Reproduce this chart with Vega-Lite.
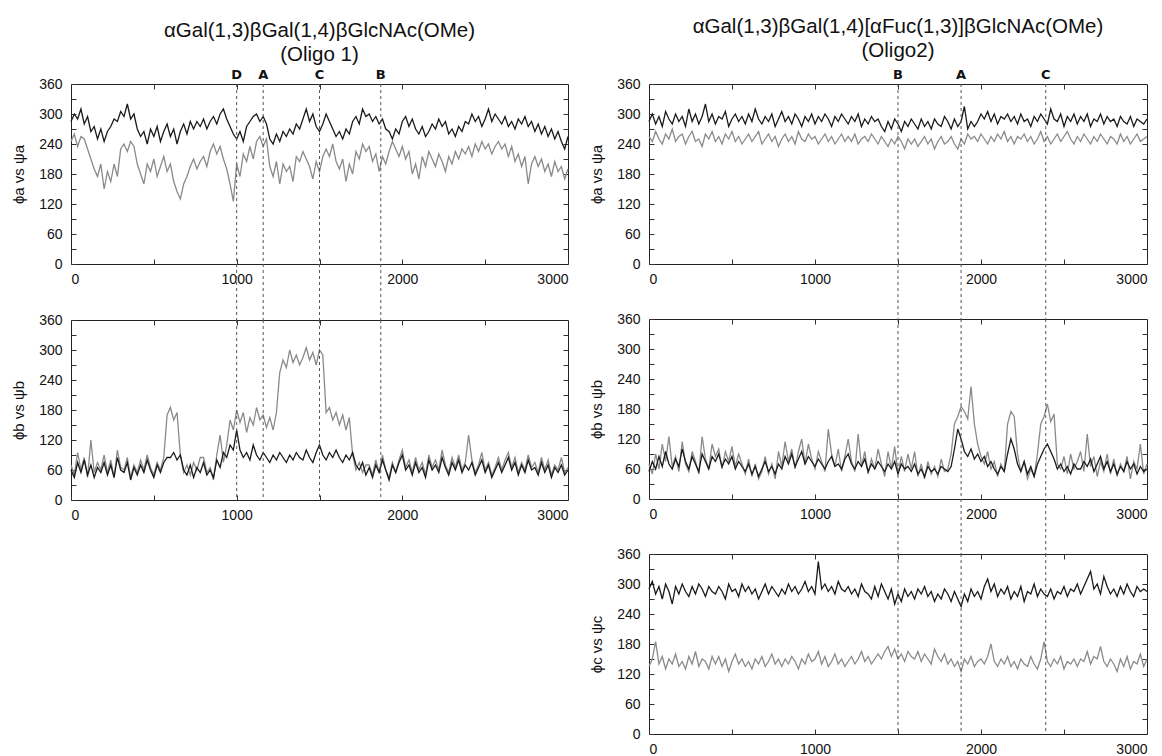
{
"$schema": "https://vega.github.io/schema/vega-lite/v6.json",
"background": "white",
"padding": {"left": 11, "top": 16, "right": 0, "bottom": 0},
"config": {
 "view": {"stroke": "#222", "strokeWidth": 1},
 "axis": {"domain": false, "grid": false, "ticks": true, "tickSize": -5, "tickColor": "#333", "labelFont": "Liberation Sans", "labelFontSize": 14, "labelColor": "#111", "titleFont": "Liberation Sans", "titleFontSize": 15, "titleFontWeight": "normal", "titleColor": "#111"},
 "title": {"font": "Liberation Sans", "fontSize": 20.5, "fontWeight": "normal", "color": "#111", "lineHeight": 24, "anchor": "middle"}
},
"datasets": {
"marks": [
 {"side": "L", "label": "D", "t": 1000},
 {"side": "L", "label": "A", "t": 1160},
 {"side": "L", "label": "C", "t": 1500},
 {"side": "L", "label": "B", "t": 1870},
 {"side": "R", "label": "B", "t": 1500},
 {"side": "R", "label": "A", "t": 1880},
 {"side": "R", "label": "C", "t": 2390}
],
"traj": [
{"t":0,"a1f":285,"a1s":245,"b1f":60,"b1s":70,"a2f":285,"a2s":255,"b2f":55,"b2s":70,"c2f":290,"c2s":135},
{"t":20,"a1f":300,"a1s":260,"b1f":45,"b1s":50,"a2f":300,"a2s":245,"b2f":75,"b2s":50,"c2f":305,"c2s":150},
{"t":40,"a1f":290,"a1s":235,"b1f":75,"b1s":95,"a2f":280,"a2s":265,"b2f":60,"b2s":90,"c2f":280,"c2s":185},
{"t":60,"a1f":310,"a1s":255,"b1f":55,"b1s":60,"a2f":295,"a2s":250,"b2f":85,"b2s":60,"c2f":295,"c2s":140},
{"t":80,"a1f":280,"a1s":250,"b1f":80,"b1s":85,"a2f":275,"a2s":240,"b2f":65,"b2s":110,"c2f":270,"c2s":155},
{"t":100,"a1f":295,"a1s":230,"b1f":50,"b1s":45,"a2f":305,"a2s":260,"b2f":95,"b2s":75,"c2f":300,"c2s":130},
{"t":120,"a1f":265,"a1s":210,"b1f":70,"b1s":120,"a2f":290,"a2s":250,"b2f":70,"b2s":125,"c2f":285,"c2s":150},
{"t":140,"a1f":275,"a1s":190,"b1f":45,"b1s":55,"a2f":280,"a2s":270,"b2f":60,"b2s":65,"c2f":260,"c2s":140},
{"t":160,"a1f":250,"a1s":175,"b1f":65,"b1s":75,"a2f":300,"a2s":245,"b2f":80,"b2s":85,"c2f":295,"c2s":160},
{"t":180,"a1f":270,"a1s":200,"b1f":55,"b1s":60,"a2f":285,"a2s":255,"b2f":65,"b2s":55,"c2f":280,"c2s":135},
{"t":200,"a1f":245,"a1s":150,"b1f":75,"b1s":90,"a2f":295,"a2s":260,"b2f":100,"b2s":115,"c2f":300,"c2s":145},
{"t":220,"a1f":265,"a1s":185,"b1f":50,"b1s":55,"a2f":275,"a2s":240,"b2f":75,"b2s":70,"c2f":285,"c2s":130},
{"t":240,"a1f":275,"a1s":165,"b1f":70,"b1s":80,"a2f":310,"a2s":255,"b2f":60,"b2s":55,"c2f":275,"c2s":155},
{"t":260,"a1f":290,"a1s":200,"b1f":45,"b1s":45,"a2f":285,"a2s":265,"b2f":85,"b2s":95,"c2f":295,"c2s":140},
{"t":280,"a1f":285,"a1s":175,"b1f":85,"b1s":100,"a2f":300,"a2s":245,"b2f":70,"b2s":75,"c2f":280,"c2s":165},
{"t":300,"a1f":305,"a1s":230,"b1f":60,"b1s":65,"a2f":280,"a2s":250,"b2f":55,"b2s":50,"c2f":300,"c2s":135},
{"t":320,"a1f":295,"a1s":240,"b1f":55,"b1s":60,"a2f":295,"a2s":235,"b2f":90,"b2s":125,"c2f":290,"c2s":150},
{"t":340,"a1f":320,"a1s":225,"b1f":75,"b1s":85,"a2f":320,"a2s":260,"b2f":75,"b2s":80,"c2f":275,"c2s":145},
{"t":360,"a1f":290,"a1s":245,"b1f":40,"b1s":45,"a2f":285,"a2s":250,"b2f":60,"b2s":60,"c2f":295,"c2s":130},
{"t":380,"a1f":300,"a1s":235,"b1f":65,"b1s":70,"a2f":300,"a2s":265,"b2f":85,"b2s":110,"c2f":285,"c2s":155},
{"t":400,"a1f":270,"a1s":200,"b1f":50,"b1s":55,"a2f":280,"a2s":245,"b2f":75,"b2s":85,"c2f":280,"c2s":140},
{"t":420,"a1f":255,"a1s":180,"b1f":70,"b1s":80,"a2f":295,"a2s":255,"b2f":90,"b2s":100,"c2f":295,"c2s":155},
{"t":440,"a1f":265,"a1s":160,"b1f":55,"b1s":60,"a2f":290,"a2s":240,"b2f":65,"b2s":60,"c2f":285,"c2s":135},
{"t":460,"a1f":240,"a1s":200,"b1f":80,"b1s":90,"a2f":305,"a2s":260,"b2f":80,"b2s":95,"c2f":270,"c2s":150},
{"t":480,"a1f":270,"a1s":185,"b1f":60,"b1s":65,"a2f":275,"a2s":250,"b2f":70,"b2s":75,"c2f":300,"c2s":125},
{"t":500,"a1f":255,"a1s":210,"b1f":45,"b1s":50,"a2f":290,"a2s":265,"b2f":85,"b2s":105,"c2f":285,"c2s":145},
{"t":520,"a1f":275,"a1s":175,"b1f":70,"b1s":75,"a2f":300,"a2s":245,"b2f":60,"b2s":65,"c2f":290,"c2s":160},
{"t":540,"a1f":245,"a1s":195,"b1f":55,"b1s":60,"a2f":285,"a2s":255,"b2f":75,"b2s":90,"c2f":275,"c2s":140},
{"t":560,"a1f":265,"a1s":215,"b1f":75,"b1s":85,"a2f":295,"a2s":240,"b2f":65,"b2s":70,"c2f":300,"c2s":150},
{"t":580,"a1f":280,"a1s":185,"b1f":85,"b1s":170,"a2f":280,"a2s":250,"b2f":55,"b2s":50,"c2f":285,"c2s":135},
{"t":600,"a1f":255,"a1s":200,"b1f":85,"b1s":185,"a2f":300,"a2s":260,"b2f":70,"b2s":80,"c2f":295,"c2s":145},
{"t":620,"a1f":270,"a1s":165,"b1f":95,"b1s":160,"a2f":285,"a2s":245,"b2f":50,"b2s":45,"c2f":280,"c2s":130},
{"t":640,"a1f":240,"a1s":145,"b1f":80,"b1s":175,"a2f":310,"a2s":255,"b2f":65,"b2s":70,"c2f":290,"c2s":150},
{"t":660,"a1f":265,"a1s":130,"b1f":90,"b1s":90,"a2f":290,"a2s":265,"b2f":45,"b2s":40,"c2f":270,"c2s":140},
{"t":680,"a1f":280,"a1s":160,"b1f":60,"b1s":55,"a2f":280,"a2s":240,"b2f":60,"b2s":55,"c2f":285,"c2s":155},
{"t":700,"a1f":260,"a1s":175,"b1f":50,"b1s":70,"a2f":295,"a2s":250,"b2f":75,"b2s":85,"c2f":300,"c2s":135},
{"t":720,"a1f":285,"a1s":195,"b1f":70,"b1s":50,"a2f":285,"a2s":260,"b2f":55,"b2s":50,"c2f":280,"c2s":145},
{"t":740,"a1f":270,"a1s":210,"b1f":45,"b1s":75,"a2f":300,"a2s":245,"b2f":65,"b2s":70,"c2f":295,"c2s":160},
{"t":760,"a1f":285,"a1s":190,"b1f":65,"b1s":60,"a2f":275,"a2s":255,"b2f":50,"b2s":40,"c2f":285,"c2s":140},
{"t":780,"a1f":275,"a1s":205,"b1f":55,"b1s":85,"a2f":290,"a2s":235,"b2f":70,"b2s":95,"c2f":275,"c2s":150},
{"t":800,"a1f":290,"a1s":215,"b1f":75,"b1s":85,"a2f":305,"a2s":250,"b2f":60,"b2s":65,"c2f":290,"c2s":135},
{"t":820,"a1f":270,"a1s":195,"b1f":50,"b1s":55,"a2f":285,"a2s":260,"b2f":85,"b2s":115,"c2f":280,"c2s":150},
{"t":840,"a1f":285,"a1s":225,"b1f":60,"b1s":65,"a2f":295,"a2s":245,"b2f":70,"b2s":75,"c2f":300,"c2s":140},
{"t":860,"a1f":295,"a1s":240,"b1f":45,"b1s":40,"a2f":280,"a2s":255,"b2f":90,"b2s":100,"c2f":285,"c2s":155},
{"t":880,"a1f":280,"a1s":220,"b1f":80,"b1s":90,"a2f":300,"a2s":240,"b2f":65,"b2s":60,"c2f":295,"c2s":145},
{"t":900,"a1f":300,"a1s":235,"b1f":65,"b1s":130,"a2f":290,"a2s":265,"b2f":80,"b2s":95,"c2f":280,"c2s":130},
{"t":920,"a1f":310,"a1s":210,"b1f":95,"b1s":75,"a2f":275,"a2s":250,"b2f":95,"b2s":120,"c2f":290,"c2s":150},
{"t":940,"a1f":290,"a1s":190,"b1f":85,"b1s":110,"a2f":295,"a2s":245,"b2f":70,"b2s":70,"c2f":305,"c2s":140},
{"t":960,"a1f":275,"a1s":160,"b1f":110,"b1s":160,"a2f":285,"a2s":260,"b2f":85,"b2s":110,"c2f":285,"c2s":160},
{"t":980,"a1f":260,"a1s":125,"b1f":100,"b1s":140,"a2f":300,"a2s":250,"b2f":75,"b2s":80,"c2f":295,"c2s":145},
{"t":1000,"a1f":250,"a1s":200,"b1f":140,"b1s":180,"a2f":280,"a2s":255,"b2f":65,"b2s":60,"c2f":280,"c2s":150},
{"t":1020,"a1f":265,"a1s":175,"b1f":100,"b1s":155,"a2f":295,"a2s":240,"b2f":80,"b2s":95,"c2f":345,"c2s":165},
{"t":1040,"a1f":245,"a1s":220,"b1f":85,"b1s":175,"a2f":285,"a2s":250,"b2f":70,"b2s":75,"c2f":290,"c2s":140},
{"t":1060,"a1f":275,"a1s":205,"b1f":95,"b1s":135,"a2f":300,"a2s":260,"b2f":60,"b2s":55,"c2f":300,"c2s":155},
{"t":1080,"a1f":285,"a1s":235,"b1f":80,"b1s":165,"a2f":290,"a2s":245,"b2f":75,"b2s":140,"c2f":285,"c2s":135},
{"t":1100,"a1f":295,"a1s":210,"b1f":110,"b1s":150,"a2f":275,"a2s":255,"b2f":85,"b2s":90,"c2f":295,"c2s":145},
{"t":1120,"a1f":300,"a1s":245,"b1f":90,"b1s":185,"a2f":295,"a2s":240,"b2f":65,"b2s":65,"c2f":280,"c2s":160},
{"t":1140,"a1f":285,"a1s":255,"b1f":80,"b1s":160,"a2f":285,"a2s":250,"b2f":70,"b2s":100,"c2f":305,"c2s":140},
{"t":1160,"a1f":295,"a1s":235,"b1f":95,"b1s":170,"a2f":300,"a2s":260,"b2f":60,"b2s":55,"c2f":290,"c2s":150},
{"t":1180,"a1f":280,"a1s":250,"b1f":85,"b1s":145,"a2f":290,"a2s":245,"b2f":80,"b2s":85,"c2f":285,"c2s":135},
{"t":1200,"a1f":250,"a1s":195,"b1f":75,"b1s":165,"a2f":280,"a2s":255,"b2f":90,"b2s":120,"c2f":295,"c2s":145},
{"t":1220,"a1f":240,"a1s":175,"b1f":90,"b1s":140,"a2f":295,"a2s":245,"b2f":70,"b2s":75,"c2f":280,"c2s":155},
{"t":1240,"a1f":260,"a1s":205,"b1f":80,"b1s":175,"a2f":285,"a2s":260,"b2f":60,"b2s":55,"c2f":290,"c2s":140},
{"t":1260,"a1f":245,"a1s":160,"b1f":95,"b1s":255,"a2f":300,"a2s":240,"b2f":75,"b2s":130,"c2f":275,"c2s":150},
{"t":1280,"a1f":265,"a1s":200,"b1f":85,"b1s":280,"a2f":275,"a2s":250,"b2f":65,"b2s":65,"c2f":300,"c2s":165},
{"t":1300,"a1f":255,"a1s":185,"b1f":75,"b1s":265,"a2f":290,"a2s":255,"b2f":80,"b2s":95,"c2f":285,"c2s":145},
{"t":1320,"a1f":270,"a1s":195,"b1f":90,"b1s":300,"a2f":280,"a2s":245,"b2f":55,"b2s":50,"c2f":280,"c2s":155},
{"t":1340,"a1f":260,"a1s":165,"b1f":80,"b1s":275,"a2f":295,"a2s":260,"b2f":70,"b2s":80,"c2f":270,"c2s":140},
{"t":1360,"a1f":280,"a1s":215,"b1f":95,"b1s":290,"a2f":285,"a2s":250,"b2f":60,"b2s":60,"c2f":295,"c2s":150},
{"t":1380,"a1f":270,"a1s":205,"b1f":85,"b1s":270,"a2f":290,"a2s":240,"b2f":75,"b2s":100,"c2f":275,"c2s":160},
{"t":1400,"a1f":290,"a1s":225,"b1f":80,"b1s":285,"a2f":275,"a2s":255,"b2f":65,"b2s":70,"c2f":300,"c2s":150},
{"t":1420,"a1f":310,"a1s":210,"b1f":100,"b1s":305,"a2f":265,"a2s":245,"b2f":55,"b2s":45,"c2f":285,"c2s":165},
{"t":1440,"a1f":285,"a1s":195,"b1f":85,"b1s":280,"a2f":285,"a2s":235,"b2f":70,"b2s":95,"c2f":270,"c2s":175},
{"t":1460,"a1f":300,"a1s":170,"b1f":75,"b1s":295,"a2f":270,"a2s":250,"b2f":60,"b2s":60,"c2f":290,"c2s":155},
{"t":1480,"a1f":275,"a1s":205,"b1f":95,"b1s":270,"a2f":290,"a2s":240,"b2f":75,"b2s":105,"c2f":260,"c2s":170},
{"t":1500,"a1f":265,"a1s":185,"b1f":110,"b1s":300,"a2f":280,"a2s":255,"b2f":50,"b2s":50,"c2f":280,"c2s":150},
{"t":1520,"a1f":280,"a1s":215,"b1f":90,"b1s":290,"a2f":265,"a2s":245,"b2f":70,"b2s":85,"c2f":265,"c2s":160},
{"t":1540,"a1f":300,"a1s":230,"b1f":80,"b1s":175,"a2f":285,"a2s":230,"b2f":60,"b2s":55,"c2f":290,"c2s":145},
{"t":1560,"a1f":285,"a1s":215,"b1f":95,"b1s":185,"a2f":275,"a2s":250,"b2f":65,"b2s":90,"c2f":275,"c2s":165},
{"t":1580,"a1f":270,"a1s":240,"b1f":85,"b1s":160,"a2f":290,"a2s":240,"b2f":55,"b2s":60,"c2f":285,"c2s":155},
{"t":1600,"a1f":255,"a1s":205,"b1f":100,"b1s":175,"a2f":280,"a2s":250,"b2f":70,"b2s":95,"c2f":270,"c2s":150},
{"t":1620,"a1f":265,"a1s":190,"b1f":85,"b1s":150,"a2f":270,"a2s":235,"b2f":50,"b2s":45,"c2f":290,"c2s":165},
{"t":1640,"a1f":250,"a1s":210,"b1f":75,"b1s":170,"a2f":290,"a2s":245,"b2f":60,"b2s":70,"c2f":280,"c2s":145},
{"t":1660,"a1f":270,"a1s":165,"b1f":90,"b1s":140,"a2f":275,"a2s":255,"b2f":45,"b2s":40,"c2f":295,"c2s":160},
{"t":1680,"a1f":260,"a1s":200,"b1f":80,"b1s":165,"a2f":285,"a2s":240,"b2f":65,"b2s":75,"c2f":275,"c2s":150},
{"t":1700,"a1f":285,"a1s":180,"b1f":95,"b1s":90,"a2f":270,"a2s":250,"b2f":55,"b2s":50,"c2f":285,"c2s":140},
{"t":1720,"a1f":295,"a1s":225,"b1f":70,"b1s":60,"a2f":290,"a2s":230,"b2f":60,"b2s":65,"c2f":265,"c2s":170},
{"t":1740,"a1f":280,"a1s":210,"b1f":60,"b1s":75,"a2f":280,"a2s":245,"b2f":50,"b2s":45,"c2f":280,"c2s":155},
{"t":1760,"a1f":310,"a1s":240,"b1f":75,"b1s":55,"a2f":275,"a2s":255,"b2f":65,"b2s":80,"c2f":270,"c2s":145},
{"t":1780,"a1f":295,"a1s":225,"b1f":50,"b1s":70,"a2f":295,"a2s":240,"b2f":60,"b2s":55,"c2f":290,"c2s":160},
{"t":1800,"a1f":300,"a1s":235,"b1f":65,"b1s":70,"a2f":285,"a2s":245,"b2f":55,"b2s":60,"c2f":280,"c2s":140},
{"t":1820,"a1f":285,"a1s":205,"b1f":45,"b1s":50,"a2f":270,"a2s":255,"b2f":65,"b2s":90,"c2f":265,"c2s":150},
{"t":1840,"a1f":295,"a1s":220,"b1f":70,"b1s":80,"a2f":290,"a2s":240,"b2f":100,"b2s":150,"c2f":285,"c2s":135},
{"t":1860,"a1f":280,"a1s":185,"b1f":55,"b1s":55,"a2f":275,"a2s":230,"b2f":140,"b2s":165,"c2f":270,"c2s":145},
{"t":1880,"a1f":290,"a1s":215,"b1f":80,"b1s":90,"a2f":285,"a2s":250,"b2f":120,"b2s":185,"c2f":255,"c2s":125},
{"t":1900,"a1f":270,"a1s":200,"b1f":60,"b1s":60,"a2f":315,"a2s":240,"b2f":95,"b2s":175,"c2f":280,"c2s":150},
{"t":1920,"a1f":265,"a1s":225,"b1f":40,"b1s":45,"a2f":270,"a2s":260,"b2f":85,"b2s":160,"c2f":265,"c2s":140},
{"t":1940,"a1f":250,"a1s":245,"b1f":70,"b1s":75,"a2f":285,"a2s":250,"b2f":100,"b2s":225,"c2f":290,"c2s":155},
{"t":1960,"a1f":270,"a1s":230,"b1f":55,"b1s":55,"a2f":275,"a2s":255,"b2f":80,"b2s":150,"c2f":275,"c2s":135},
{"t":1980,"a1f":260,"a1s":215,"b1f":75,"b1s":80,"a2f":285,"a2s":245,"b2f":90,"b2s":110,"c2f":285,"c2s":145},
{"t":2000,"a1f":285,"a1s":235,"b1f":90,"b1s":100,"a2f":300,"a2s":260,"b2f":75,"b2s":85,"c2f":270,"c2s":150},
{"t":2020,"a1f":295,"a1s":210,"b1f":60,"b1s":65,"a2f":290,"a2s":250,"b2f":85,"b2s":70,"c2f":295,"c2s":140},
{"t":2040,"a1f":275,"a1s":225,"b1f":70,"b1s":80,"a2f":305,"a2s":240,"b2f":65,"b2s":95,"c2f":310,"c2s":155},
{"t":2060,"a1f":290,"a1s":180,"b1f":50,"b1s":55,"a2f":285,"a2s":255,"b2f":75,"b2s":60,"c2f":285,"c2s":180},
{"t":2080,"a1f":270,"a1s":200,"b1f":75,"b1s":85,"a2f":300,"a2s":245,"b2f":60,"b2s":75,"c2f":300,"c2s":145},
{"t":2100,"a1f":260,"a1s":170,"b1f":55,"b1s":60,"a2f":280,"a2s":260,"b2f":50,"b2s":45,"c2f":275,"c2s":135},
{"t":2120,"a1f":275,"a1s":215,"b1f":65,"b1s":75,"a2f":295,"a2s":250,"b2f":65,"b2s":70,"c2f":290,"c2s":150},
{"t":2140,"a1f":255,"a1s":195,"b1f":45,"b1s":50,"a2f":290,"a2s":265,"b2f":55,"b2s":55,"c2f":280,"c2s":140},
{"t":2160,"a1f":265,"a1s":225,"b1f":80,"b1s":90,"a2f":300,"a2s":245,"b2f":90,"b2s":150,"c2f":295,"c2s":155},
{"t":2180,"a1f":280,"a1s":210,"b1f":60,"b1s":65,"a2f":285,"a2s":255,"b2f":120,"b2s":175,"c2f":270,"c2s":135},
{"t":2200,"a1f":270,"a1s":195,"b1f":70,"b1s":80,"a2f":295,"a2s":240,"b2f":100,"b2s":165,"c2f":285,"c2s":145},
{"t":2220,"a1f":290,"a1s":220,"b1f":55,"b1s":60,"a2f":280,"a2s":255,"b2f":70,"b2s":90,"c2f":275,"c2s":130},
{"t":2240,"a1f":275,"a1s":205,"b1f":85,"b1s":100,"a2f":300,"a2s":250,"b2f":55,"b2s":55,"c2f":295,"c2s":150},
{"t":2260,"a1f":285,"a1s":185,"b1f":65,"b1s":70,"a2f":285,"a2s":260,"b2f":75,"b2s":75,"c2f":265,"c2s":140},
{"t":2280,"a1f":260,"a1s":215,"b1f":50,"b1s":55,"a2f":290,"a2s":245,"b2f":50,"b2s":40,"c2f":285,"c2s":135},
{"t":2300,"a1f":270,"a1s":200,"b1f":75,"b1s":85,"a2f":275,"a2s":255,"b2f":65,"b2s":60,"c2f":280,"c2s":155},
{"t":2320,"a1f":255,"a1s":225,"b1f":60,"b1s":65,"a2f":295,"a2s":240,"b2f":45,"b2s":45,"c2f":300,"c2s":140},
{"t":2340,"a1f":275,"a1s":210,"b1f":80,"b1s":90,"a2f":285,"a2s":250,"b2f":70,"b2s":90,"c2f":275,"c2s":130},
{"t":2360,"a1f":265,"a1s":230,"b1f":55,"b1s":60,"a2f":300,"a2s":265,"b2f":85,"b2s":150,"c2f":290,"c2s":150},
{"t":2380,"a1f":285,"a1s":220,"b1f":70,"b1s":75,"a2f":290,"a2s":245,"b2f":100,"b2s":165,"c2f":280,"c2s":185},
{"t":2400,"a1f":280,"a1s":235,"b1f":60,"b1s":130,"a2f":280,"a2s":255,"b2f":110,"b2s":190,"c2f":275,"c2s":145},
{"t":2420,"a1f":300,"a1s":215,"b1f":75,"b1s":80,"a2f":310,"a2s":240,"b2f":95,"b2s":155,"c2f":290,"c2s":135},
{"t":2440,"a1f":285,"a1s":240,"b1f":50,"b1s":55,"a2f":290,"a2s":250,"b2f":80,"b2s":170,"c2f":270,"c2s":150},
{"t":2460,"a1f":295,"a1s":225,"b1f":65,"b1s":70,"a2f":285,"a2s":260,"b2f":60,"b2s":70,"c2f":285,"c2s":140},
{"t":2480,"a1f":275,"a1s":245,"b1f":80,"b1s":95,"a2f":300,"a2s":245,"b2f":70,"b2s":60,"c2f":280,"c2s":155},
{"t":2500,"a1f":290,"a1s":230,"b1f":55,"b1s":60,"a2f":275,"a2s":255,"b2f":55,"b2s":85,"c2f":295,"c2s":130},
{"t":2520,"a1f":310,"a1s":240,"b1f":70,"b1s":75,"a2f":295,"a2s":265,"b2f":65,"b2s":50,"c2f":275,"c2s":145},
{"t":2540,"a1f":285,"a1s":220,"b1f":45,"b1s":50,"a2f":285,"a2s":250,"b2f":50,"b2s":90,"c2f":290,"c2s":140},
{"t":2560,"a1f":300,"a1s":235,"b1f":60,"b1s":65,"a2f":300,"a2s":240,"b2f":70,"b2s":60,"c2f":285,"c2s":150},
{"t":2580,"a1f":290,"a1s":245,"b1f":75,"b1s":85,"a2f":280,"a2s":255,"b2f":60,"b2s":75,"c2f":300,"c2s":135},
{"t":2600,"a1f":280,"a1s":230,"b1f":55,"b1s":60,"a2f":295,"a2s":245,"b2f":60,"b2s":95,"c2f":280,"c2s":150},
{"t":2620,"a1f":295,"a1s":240,"b1f":70,"b1s":80,"a2f":285,"a2s":260,"b2f":75,"b2s":55,"c2f":295,"c2s":145},
{"t":2640,"a1f":275,"a1s":215,"b1f":85,"b1s":95,"a2f":300,"a2s":250,"b2f":65,"b2s":130,"c2f":310,"c2s":165},
{"t":2660,"a1f":285,"a1s":235,"b1f":60,"b1s":65,"a2f":275,"a2s":240,"b2f":80,"b2s":65,"c2f":325,"c2s":140},
{"t":2680,"a1f":270,"a1s":205,"b1f":75,"b1s":85,"a2f":290,"a2s":255,"b2f":55,"b2s":85,"c2f":290,"c2s":155},
{"t":2700,"a1f":290,"a1s":220,"b1f":50,"b1s":55,"a2f":285,"a2s":245,"b2f":70,"b2s":45,"c2f":300,"c2s":150},
{"t":2720,"a1f":280,"a1s":195,"b1f":70,"b1s":75,"a2f":300,"a2s":260,"b2f":85,"b2s":75,"c2f":280,"c2s":175},
{"t":2740,"a1f":295,"a1s":215,"b1f":55,"b1s":60,"a2f":280,"a2s":250,"b2f":60,"b2s":55,"c2f":315,"c2s":145},
{"t":2760,"a1f":275,"a1s":160,"b1f":80,"b1s":90,"a2f":295,"a2s":240,"b2f":75,"b2s":90,"c2f":295,"c2s":135},
{"t":2780,"a1f":285,"a1s":200,"b1f":60,"b1s":65,"a2f":285,"a2s":255,"b2f":55,"b2s":50,"c2f":280,"c2s":150},
{"t":2800,"a1f":265,"a1s":215,"b1f":65,"b1s":75,"a2f":290,"a2s":250,"b2f":70,"b2s":80,"c2f":290,"c2s":140},
{"t":2820,"a1f":280,"a1s":195,"b1f":50,"b1s":55,"a2f":275,"a2s":240,"b2f":50,"b2s":45,"c2f":275,"c2s":125},
{"t":2840,"a1f":260,"a1s":210,"b1f":75,"b1s":85,"a2f":295,"a2s":260,"b2f":65,"b2s":70,"c2f":295,"c2s":150},
{"t":2860,"a1f":275,"a1s":185,"b1f":55,"b1s":60,"a2f":285,"a2s":245,"b2f":55,"b2s":55,"c2f":280,"c2s":135},
{"t":2880,"a1f":255,"a1s":200,"b1f":70,"b1s":80,"a2f":280,"a2s":255,"b2f":75,"b2s":85,"c2f":300,"c2s":155},
{"t":2900,"a1f":270,"a1s":175,"b1f":45,"b1s":50,"a2f":295,"a2s":240,"b2f":60,"b2s":40,"c2f":285,"c2s":130},
{"t":2920,"a1f":250,"a1s":205,"b1f":65,"b1s":70,"a2f":275,"a2s":250,"b2f":70,"b2s":75,"c2f":275,"c2s":145},
{"t":2940,"a1f":265,"a1s":185,"b1f":55,"b1s":60,"a2f":290,"a2s":260,"b2f":50,"b2s":60,"c2f":295,"c2s":140},
{"t":2960,"a1f":245,"a1s":195,"b1f":70,"b1s":85,"a2f":285,"a2s":245,"b2f":65,"b2s":110,"c2f":285,"c2s":160},
{"t":2980,"a1f":230,"a1s":170,"b1f":50,"b1s":55,"a2f":280,"a2s":250,"b2f":55,"b2s":50,"c2f":290,"c2s":135},
{"t":3000,"a1f":255,"a1s":190,"b1f":60,"b1s":65,"a2f":290,"a2s":255,"b2f":60,"b2s":70,"c2f":285,"c2s":150}
]
},
"spacing": 17,
"hconcat": [
 {"vconcat": [
  {"width": 497, "height": 180,
   "title": {"text": ["αGal(1,3)βGal(1,4)βGlcNAc(OMe)", "(Oligo 1)"], "offset": 4},
   "layer": [
    {"data": {"name": "traj"}, "transform": [{"fold": ["a1s", "a1f"], "as": ["series", "angle"]}],
     "mark": {"type": "line", "strokeWidth": 1.3},
     "encoding": {
      "x": {"field": "t", "type": "quantitative", "scale": {"domain": [0, 3000], "nice": false}, "axis": {"values": [0,500,1000,1500,2000,2500,3000], "format": "d", "labelExpr": "datum.value % 1000 == 0 ? datum.label : ''", "title": null, "labelPadding": 13}},
      "y": {"field": "angle", "type": "quantitative", "scale": {"domain": [0, 360], "nice": false}, "axis": {"values": [0,30,60,90,120,150,180,210,240,270,300,330,360], "labelExpr": "datum.value % 60 == 0 ? datum.label : ''", "title": "ϕa vs ψa", "labelPadding": 14, "titlePadding": 12}},
      "color": {"field": "series", "type": "nominal", "scale": {"domain": ["a1s", "a1f"], "range": ["#8a8a8a", "#1a1a1a"]}, "legend": null}
     }},
    {"data": {"name": "marks"}, "transform": [{"filter": "datum.side == 'L'"}],
     "mark": {"type": "rule", "strokeDash": [3, 3], "color": "#555", "strokeWidth": 1},
     "encoding": {
      "x": {"field": "t", "type": "quantitative", "scale": {"domain": [0, 3000], "nice": false}, "axis": {"orient": "top", "labels": false, "title": null, "values": [500,1000,1500,2000,2500]}},
      "y": {"datum": 360, "type": "quantitative", "scale": {"domain": [0, 360], "nice": false}, "axis": {"orient": "right", "labels": false, "title": null, "values": [30,60,90,120,150,180,210,240,270,300,330]}},
      "y2": {"datum": -112}
     }},
    {"data": {"name": "marks"}, "transform": [{"filter": "datum.side == 'L'"}],
     "mark": {"type": "text", "baseline": "bottom", "dy": -2, "font": "DejaVu Sans", "fontSize": 13, "fontWeight": "bold", "color": "#111"},
     "encoding": {
      "x": {"field": "t", "type": "quantitative", "axis": null},
      "y": {"datum": 360, "type": "quantitative", "axis": null},
      "text": {"field": "label"}
     }}
   ],
   "resolve": {"axis": {"x": "independent", "y": "independent"}}
  },
  {"width": 497, "height": 180,
   "layer": [
    {"data": {"name": "traj"}, "transform": [{"fold": ["b1s", "b1f"], "as": ["series", "angle"]}],
     "mark": {"type": "line", "strokeWidth": 1.3},
     "encoding": {
      "x": {"field": "t", "type": "quantitative", "scale": {"domain": [0, 3000], "nice": false}, "axis": {"values": [0,500,1000,1500,2000,2500,3000], "format": "d", "labelExpr": "datum.value % 1000 == 0 ? datum.label : ''", "title": null, "labelPadding": 13}},
      "y": {"field": "angle", "type": "quantitative", "scale": {"domain": [0, 360], "nice": false}, "axis": {"values": [0,30,60,90,120,150,180,210,240,270,300,330,360], "labelExpr": "datum.value % 60 == 0 ? datum.label : ''", "title": "ϕb vs ψb", "labelPadding": 14, "titlePadding": 12}},
      "color": {"field": "series", "type": "nominal", "scale": {"domain": ["b1s", "b1f"], "range": ["#8a8a8a", "#1a1a1a"]}, "legend": null}
     }},
    {"data": {"name": "marks"}, "transform": [{"filter": "datum.side == 'L'"}],
     "mark": {"type": "rule", "strokeDash": [3, 3], "color": "#555", "strokeWidth": 1},
     "encoding": {
      "x": {"field": "t", "type": "quantitative", "scale": {"domain": [0, 3000], "nice": false}, "axis": {"orient": "top", "labels": false, "title": null, "values": [500,1000,1500,2000,2500]}},
      "y": {"datum": 360, "type": "quantitative", "scale": {"domain": [0, 360], "nice": false}, "axis": {"orient": "right", "labels": false, "title": null, "values": [30,60,90,120,150,180,210,240,270,300,330]}},
      "y2": {"datum": 0}
     }}
   ],
   "resolve": {"axis": {"x": "independent", "y": "independent"}}
  }
 ], "spacing": 56, "bounds": "flush"},
 {"vconcat": [
  {"width": 498, "height": 180,
   "title": {"text": ["αGal(1,3)βGal(1,4)[αFuc(1,3)]βGlcNAc(OMe)", "(Oligo2)"], "offset": 8},
   "layer": [
    {"data": {"name": "traj"}, "transform": [{"fold": ["a2s", "a2f"], "as": ["series", "angle"]}],
     "mark": {"type": "line", "strokeWidth": 1.3},
     "encoding": {
      "x": {"field": "t", "type": "quantitative", "scale": {"domain": [0, 3000], "nice": false}, "axis": {"values": [0,500,1000,1500,2000,2500,3000], "format": "d", "labelExpr": "datum.value % 1000 == 0 ? datum.label : ''", "title": null, "labelPadding": 13}},
      "y": {"field": "angle", "type": "quantitative", "scale": {"domain": [0, 360], "nice": false}, "axis": {"values": [0,30,60,90,120,150,180,210,240,270,300,330,360], "labelExpr": "datum.value % 60 == 0 ? datum.label : ''", "title": "ϕa vs ψa", "labelPadding": 14, "titlePadding": 12}},
      "color": {"field": "series", "type": "nominal", "scale": {"domain": ["a2s", "a2f"], "range": ["#8a8a8a", "#1a1a1a"]}, "legend": null}
     }},
    {"data": {"name": "marks"}, "transform": [{"filter": "datum.side == 'R'"}],
     "mark": {"type": "rule", "strokeDash": [3, 3], "color": "#555", "strokeWidth": 1},
     "encoding": {
      "x": {"field": "t", "type": "quantitative", "scale": {"domain": [0, 3000], "nice": false}, "axis": {"orient": "top", "labels": false, "title": null, "values": [500,1000,1500,2000,2500]}},
      "y": {"datum": 360, "type": "quantitative", "scale": {"domain": [0, 360], "nice": false}, "axis": {"orient": "right", "labels": false, "title": null, "values": [30,60,90,120,150,180,210,240,270,300,330]}},
      "y2": {"datum": -110}
     }},
    {"data": {"name": "marks"}, "transform": [{"filter": "datum.side == 'R'"}],
     "mark": {"type": "text", "baseline": "bottom", "dy": -2, "font": "DejaVu Sans", "fontSize": 13, "fontWeight": "bold", "color": "#111"},
     "encoding": {
      "x": {"field": "t", "type": "quantitative", "axis": null},
      "y": {"datum": 360, "type": "quantitative", "axis": null},
      "text": {"field": "label"}
     }}
   ],
   "resolve": {"axis": {"x": "independent", "y": "independent"}}
  },
  {"width": 498, "height": 180,
   "layer": [
    {"data": {"name": "traj"}, "transform": [{"fold": ["b2s", "b2f"], "as": ["series", "angle"]}],
     "mark": {"type": "line", "strokeWidth": 1.3},
     "encoding": {
      "x": {"field": "t", "type": "quantitative", "scale": {"domain": [0, 3000], "nice": false}, "axis": {"values": [0,500,1000,1500,2000,2500,3000], "format": "d", "labelExpr": "datum.value % 1000 == 0 ? datum.label : ''", "title": null, "labelPadding": 13}},
      "y": {"field": "angle", "type": "quantitative", "scale": {"domain": [0, 360], "nice": false}, "axis": {"values": [0,30,60,90,120,150,180,210,240,270,300,330,360], "labelExpr": "datum.value % 60 == 0 ? datum.label : ''", "title": "ϕb vs ψb", "labelPadding": 14, "titlePadding": 12}},
      "color": {"field": "series", "type": "nominal", "scale": {"domain": ["b2s", "b2f"], "range": ["#8a8a8a", "#1a1a1a"]}, "legend": null}
     }},
    {"data": {"name": "marks"}, "transform": [{"filter": "datum.side == 'R'"}],
     "mark": {"type": "rule", "strokeDash": [3, 3], "color": "#555", "strokeWidth": 1},
     "encoding": {
      "x": {"field": "t", "type": "quantitative", "scale": {"domain": [0, 3000], "nice": false}, "axis": {"orient": "top", "labels": false, "title": null, "values": [500,1000,1500,2000,2500]}},
      "y": {"datum": 360, "type": "quantitative", "scale": {"domain": [0, 360], "nice": false}, "axis": {"orient": "right", "labels": false, "title": null, "values": [30,60,90,120,150,180,210,240,270,300,330]}},
      "y2": {"datum": -110}
     }}
   ],
   "resolve": {"axis": {"x": "independent", "y": "independent"}}
  },
  {"width": 498, "height": 180,
   "layer": [
    {"data": {"name": "traj"}, "transform": [{"fold": ["c2s", "c2f"], "as": ["series", "angle"]}],
     "mark": {"type": "line", "strokeWidth": 1.3},
     "encoding": {
      "x": {"field": "t", "type": "quantitative", "scale": {"domain": [0, 3000], "nice": false}, "axis": {"values": [0,500,1000,1500,2000,2500,3000], "format": "d", "labelExpr": "datum.value % 1000 == 0 ? datum.label : ''", "title": null, "labelPadding": 13}},
      "y": {"field": "angle", "type": "quantitative", "scale": {"domain": [0, 360], "nice": false}, "axis": {"values": [0,30,60,90,120,150,180,210,240,270,300,330,360], "labelExpr": "datum.value % 60 == 0 ? datum.label : ''", "title": "ϕc vs ψc", "labelPadding": 14, "titlePadding": 12}},
      "color": {"field": "series", "type": "nominal", "scale": {"domain": ["c2s", "c2f"], "range": ["#8a8a8a", "#1a1a1a"]}, "legend": null}
     }},
    {"data": {"name": "marks"}, "transform": [{"filter": "datum.side == 'R'"}],
     "mark": {"type": "rule", "strokeDash": [3, 3], "color": "#555", "strokeWidth": 1},
     "encoding": {
      "x": {"field": "t", "type": "quantitative", "scale": {"domain": [0, 3000], "nice": false}, "axis": {"orient": "top", "labels": false, "title": null, "values": [500,1000,1500,2000,2500]}},
      "y": {"datum": 360, "type": "quantitative", "scale": {"domain": [0, 360], "nice": false}, "axis": {"orient": "right", "labels": false, "title": null, "values": [30,60,90,120,150,180,210,240,270,300,330]}},
      "y2": {"datum": 0}
     }}
   ],
   "resolve": {"axis": {"x": "independent", "y": "independent"}}
  }
 ], "spacing": 55, "bounds": "flush"}
]
}
